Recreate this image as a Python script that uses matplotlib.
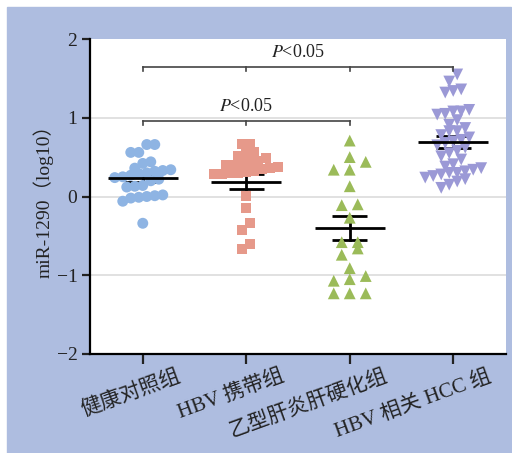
import numpy as np
import matplotlib.pyplot as plt
from matplotlib.patches import Rectangle
from matplotlib.transforms import ScaledTranslation

plt.rcParams['font.family'] = ['Liberation Serif', 'Noto Sans CJK SC']
plt.rcParams['mathtext.fontset'] = 'stix'

groups = ['健康对照组', 'HBV 携带组', '乙型肝炎肝硬化组', 'HBV 相关 HCC 组']

healthy = [0.66, 0.66, 0.56, 0.56, 0.44, 0.42, 0.36, 0.34, 0.33, 0.32, 0.30,
           0.29, 0.27, 0.25, 0.24, 0.22, 0.20, 0.14, 0.13, 0.12, 0.02, 0.01,
           0.00, -0.01, -0.02, -0.06, -0.34]
carrier = [0.67, 0.67, 0.57, 0.55, 0.52, 0.49, 0.45, 0.44, 0.42, 0.40, 0.40,
           0.38, 0.36, 0.35, 0.33, 0.31, 0.30, 0.30, 0.28, 0.28,
           0.01, -0.14, -0.34, -0.42, -0.60, -0.67]
cirrhosis = [0.71, 0.50, 0.44, 0.34, 0.34, 0.13, -0.10, -0.11, -0.27, -0.58,
             -0.58, -0.66, -0.74, -0.91, -1.01, -1.05, -1.07, -1.23, -1.23, -1.23]
hcc = [1.55, 1.46, 1.36, 1.34, 1.32, 1.10, 1.08, 1.08, 1.05, 1.04, 0.97, 0.91,
       0.87, 0.83, 0.83, 0.78, 0.75, 0.72, 0.70, 0.68, 0.65, 0.62, 0.58, 0.55,
       0.51, 0.47, 0.41, 0.38, 0.36, 0.34, 0.32, 0.30, 0.30, 0.28, 0.26, 0.24,
       0.22, 0.19, 0.15, 0.11]

means = [0.23, 0.19, -0.40, 0.69]
sems = [0.045, 0.10, 0.15, 0.075]

# significance brackets: (from group, to group, height, label)
brackets = [(0, 3, 1.65, r'$P$<0.05'), (0, 2, 0.96, r'$P$<0.05')]

series = [healthy, carrier, cirrhosis, hcc]
markers = ['o', 's', '^', 'v']
colors = ['#8eb4e3', '#e6998a', '#9bbb59', '#9b99d6']
sizes = [62, 52, 72, 72]
row_h = [9, 9, 10, 10]      # px height of a row of points
spacing = [8, 8, 16, 8]     # px between points in a row

W, H = 512, 453
fig = plt.figure(figsize=(W / 100, H / 100), dpi=100)
bg = Rectangle((7 / W, 0), (511 - 7) / W, (H - 7) / H,
               transform=fig.transFigure, color='#aebde0', zorder=-5)
fig.add_artist(bg)
ax = fig.add_axes([90 / W, 99 / H, 416 / W, 315 / H])
ax.set_zorder(1)
ax.set_facecolor('white')

ax.set_xlim(-0.51, 3.51)
ax.set_ylim(-2, 2)

# px per data unit, used for the scatter layout
xpx = 416 / 4.02
ypx = 315 / 4.0


def rows_layout(vals, h, s):
    # Prism-like: points close in value share a row, spread side by side
    order = np.argsort(vals)
    out = np.zeros(len(vals))
    row = []
    start = None
    for i in list(order) + [None]:
        if i is not None and (start is None or (vals[i] - start) * ypx <= h):
            if start is None:
                start = vals[i]
            row.append(i)
            continue
        n = len(row)
        for k, j in enumerate(row):
            out[j] = (k - (n - 1) / 2) * s / xpx
        if i is not None:
            row = [i]
            start = vals[i]
    return out


for v in [-1, 0, 1]:
    ax.axhline(v, color='#dcdcdc', lw=1.2, zorder=1)

for i, vals in enumerate(series):
    vals = np.array(vals)
    xs = i + rows_layout(vals, row_h[i], spacing[i])
    ax.scatter(xs, vals, s=sizes[i], marker=markers[i], color=colors[i],
               edgecolors='none', zorder=3)
    m, e = means[i], sems[i]
    ax.plot([i, i], [m - e, m + e], color='black', lw=2, zorder=2)
    ax.hlines([m - e, m + e], i - 0.17, i + 0.17, color='black', lw=2, zorder=2)
    ax.hlines(m, i - 0.34, i + 0.34, color='black', lw=2, zorder=4)

for a, b, h, lab in brackets:
    ax.plot([a, b], [h, h], color='#444444', lw=1.2, zorder=5)
    for k in range(a, b + 1):
        ax.plot([k, k], [h, h - 0.055], color='#444444', lw=1.2, zorder=5)
    ax.text((a + b) / 2, h + 0.12, lab, ha='center', va='baseline',
            fontsize=13, color='#222222')

for s in ['top', 'right']:
    ax.spines[s].set_visible(False)
for s in ['left', 'bottom']:
    ax.spines[s].set_linewidth(1.6)

ax.set_yticks([-2, -1, 0, 1, 2])
ax.tick_params(axis='y', length=6, width=1.6, pad=3, labelsize=14, colors='#222222')
ax.tick_params(axis='x', length=7, width=1.6, pad=2, labelsize=15, colors='#222222')
ax.set_xticks(range(4))
ax.set_xticklabels(groups, rotation=20, ha='right', rotation_mode='anchor')
shift = ScaledTranslation(0.34, 0, fig.dpi_scale_trans)
for lbl in ax.get_xticklabels():
    lbl.set_transform(lbl.get_transform() + shift)

ax.set_ylabel('miR-1290（log10）', fontsize=14, color='#222222', labelpad=2)

fig.savefig('out.png', dpi=100)
